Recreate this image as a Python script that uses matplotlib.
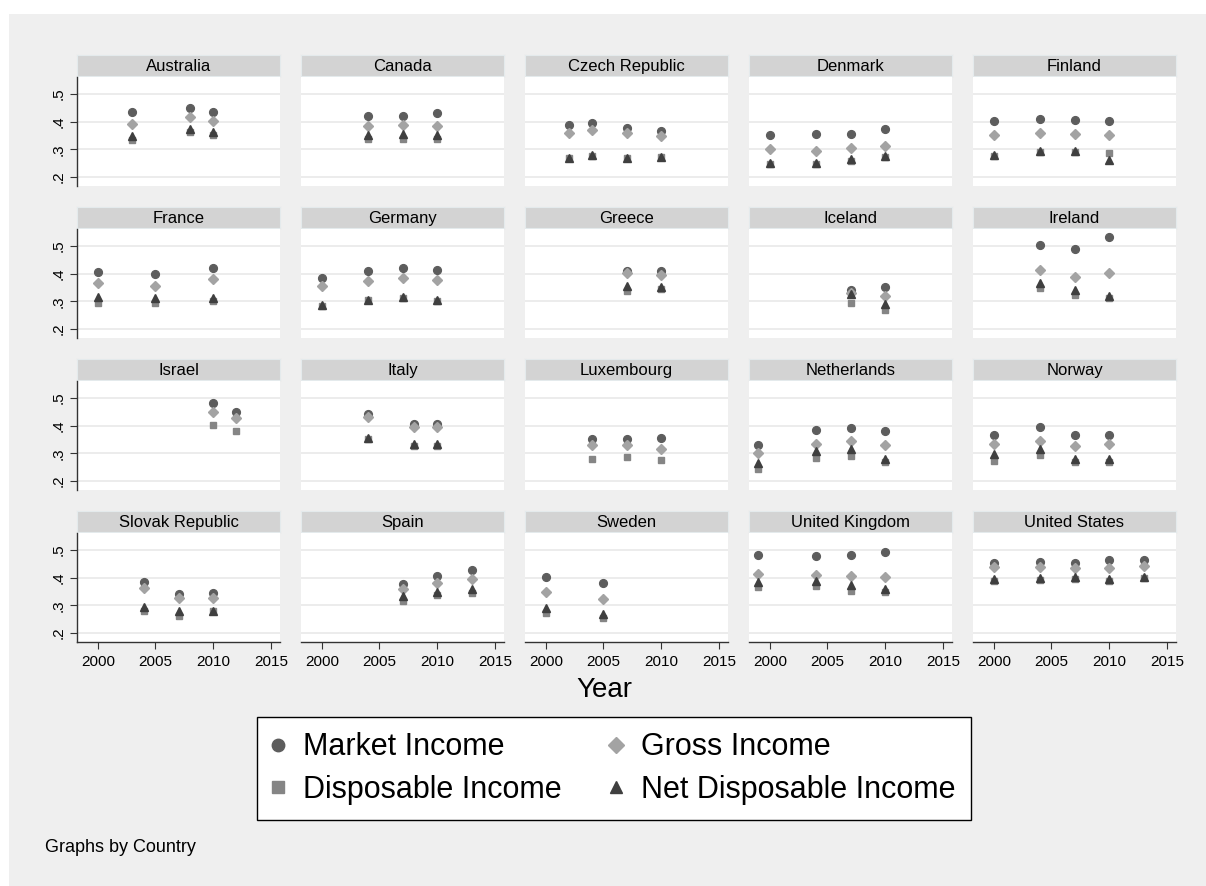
import matplotlib
matplotlib.use("Agg")
import matplotlib.pyplot as plt
from matplotlib.lines import Line2D
from matplotlib.patches import Rectangle
import numpy as np

plt.rcParams['font.family'] = ['Liberation Sans', 'DejaVu Sans']

countries = ["Australia", "Canada", "Czech Republic", "Denmark", "Finland",
             "France", "Germany", "Greece", "Iceland", "Ireland",
             "Israel", "Italy", "Luxembourg", "Netherlands", "Norway",
             "Slovak Republic", "Spain", "Sweden", "United Kingdom", "United States"]

years = {
    "Australia": [2003, 2008, 2010],
    "Canada": [2004, 2007, 2010],
    "Czech Republic": [2002, 2004, 2007, 2010],
    "Denmark": [2000, 2004, 2007, 2010],
    "Finland": [2000, 2004, 2007, 2010],
    "France": [2000, 2005, 2010],
    "Germany": [2000, 2004, 2007, 2010],
    "Greece": [2007, 2010],
    "Iceland": [2007, 2010],
    "Ireland": [2004, 2007, 2010],
    "Israel": [2010, 2012],
    "Italy": [2004, 2008, 2010],
    "Luxembourg": [2004, 2007, 2010],
    "Netherlands": [1999, 2004, 2007, 2010],
    "Norway": [2000, 2004, 2007, 2010],
    "Slovak Republic": [2004, 2007, 2010],
    "Spain": [2007, 2010, 2013],
    "Sweden": [2000, 2005],
    "United Kingdom": [1999, 2004, 2007, 2010],
    "United States": [2000, 2004, 2007, 2010, 2013],
}

market_income = {
    "Australia": [0.436, 0.450, 0.436],
    "Canada": [0.421, 0.419, 0.433],
    "Czech Republic": [0.387, 0.394, 0.377, 0.368],
    "Denmark": [0.353, 0.354, 0.356, 0.373],
    "Finland": [0.404, 0.408, 0.406, 0.401],
    "France": [0.405, 0.398, 0.421],
    "Germany": [0.385, 0.411, 0.421, 0.414],
    "Greece": [0.410, 0.410],
    "Iceland": [0.341, 0.352],
    "Ireland": [0.502, 0.490, 0.532],
    "Israel": [0.481, 0.451],
    "Italy": [0.441, 0.405, 0.405],
    "Luxembourg": [0.353, 0.351, 0.354],
    "Netherlands": [0.330, 0.385, 0.391, 0.379],
    "Norway": [0.367, 0.396, 0.367, 0.368],
    "Slovak Republic": [0.383, 0.341, 0.343],
    "Spain": [0.378, 0.406, 0.426],
    "Sweden": [0.401, 0.379],
    "United Kingdom": [0.482, 0.480, 0.483, 0.493],
    "United States": [0.453, 0.458, 0.453, 0.464, 0.464],
}

gross_income = {
    "Australia": [0.392, 0.416, 0.401],
    "Canada": [0.385, 0.387, 0.384],
    "Czech Republic": [0.358, 0.371, 0.358, 0.349],
    "Denmark": [0.300, 0.293, 0.304, 0.313],
    "Finland": [0.352, 0.360, 0.355, 0.350],
    "France": [0.365, 0.355, 0.379],
    "Germany": [0.357, 0.374, 0.386, 0.378],
    "Greece": [0.401, 0.396],
    "Iceland": [0.330, 0.318],
    "Ireland": [0.412, 0.389, 0.403],
    "Israel": [0.451, 0.427],
    "Italy": [0.432, 0.394, 0.394],
    "Luxembourg": [0.329, 0.329, 0.317],
    "Netherlands": [0.300, 0.335, 0.346, 0.331],
    "Norway": [0.333, 0.345, 0.327, 0.333],
    "Slovak Republic": [0.361, 0.328, 0.327],
    "Spain": [0.358, 0.380, 0.396],
    "Sweden": [0.348, 0.323],
    "United Kingdom": [0.412, 0.411, 0.406, 0.402],
    "United States": [0.439, 0.439, 0.436, 0.435, 0.442],
}

disposable_income = {
    "Australia": [0.333, 0.362, 0.353],
    "Canada": [0.338, 0.339, 0.338],
    "Czech Republic": [0.269, 0.277, 0.267, 0.271],
    "Denmark": [0.246, 0.246, 0.259, 0.272],
    "Finland": [0.276, 0.292, 0.291, 0.286],
    "France": [0.295, 0.294, 0.301],
    "Germany": [0.283, 0.304, 0.311, 0.301],
    "Greece": [0.336, 0.344],
    "Iceland": [0.295, 0.270],
    "Ireland": [0.348, 0.323, 0.311],
    "Israel": [0.404, 0.382],
    "Italy": [0.351, 0.326, 0.326],
    "Luxembourg": [0.280, 0.287, 0.277],
    "Netherlands": [0.244, 0.282, 0.289, 0.270],
    "Norway": [0.274, 0.294, 0.269, 0.270],
    "Slovak Republic": [0.278, 0.263, 0.278],
    "Spain": [0.316, 0.337, 0.346],
    "Sweden": [0.274, 0.256],
    "United Kingdom": [0.366, 0.369, 0.353, 0.347],
    "United States": [0.387, 0.393, 0.395, 0.388, 0.399],
}

net_disposable_income = {
    "Australia": [0.347, 0.373, 0.364],
    "Canada": [0.352, 0.354, 0.350],
    "Czech Republic": [0.270, 0.278, 0.268, 0.272],
    "Denmark": [0.252, 0.252, 0.265, 0.277],
    "Finland": [0.281, 0.295, 0.294, 0.261],
    "France": [0.315, 0.312, 0.312],
    "Germany": [0.286, 0.306, 0.314, 0.306],
    "Greece": [0.355, 0.351],
    "Iceland": [0.327, 0.291],
    "Ireland": [0.365, 0.341, 0.320],
    "Israel": [None, None],
    "Italy": [0.355, 0.332, 0.332],
    "Luxembourg": [None, None, None],
    "Netherlands": [0.264, 0.307, 0.317, 0.278],
    "Norway": [0.296, 0.314, 0.278, 0.280],
    "Slovak Republic": [0.294, 0.278, 0.280],
    "Spain": [0.334, 0.347, 0.359],
    "Sweden": [0.289, 0.267],
    "United Kingdom": [0.383, 0.388, 0.372, 0.358],
    "United States": [0.394, 0.400, 0.402, 0.395, 0.404],
}

x_ticks = [2000, 2005, 2010, 2015]
y_ticks = [0.2, 0.3, 0.4, 0.5]
y_ticklabels = [".2", ".3", ".4", ".5"]
series_labels = ["Market Income", "Gross Income", "Disposable Income", "Net Disposable Income"]

# styles
W, H = 1206, 886
BG = "#efefef"
styles = [
    dict(marker="o", color="#5d5d5d", ms=5.6),
    dict(marker="D", color="#a3a3a3", ms=4.8),
    dict(marker="s", color="#858585", ms=5.0),
    dict(marker="^", color="#3f3f3f", ms=5.8),
]

fig = plt.figure(figsize=(W / 100, H / 100), dpi=100)
fig.patch.set_facecolor("white")
fig.patches.append(Rectangle((9 / W, 0), 1 - 9 / W, 1 - 14 / H, transform=fig.transFigure,
                             facecolor=BG, edgecolor="none", zorder=-10))


def rect(x, y, w, h):
    return [x / W, 1 - (y + h) / H, w / W, h / H]


col_left0, col_step, col_w = 77, 224, 203
row_step = 152
strip_top0, plot_top0, plot_bot0 = 55, 77, 186

for i, c in enumerate(countries):
    r, k = divmod(i, 5)
    x0 = col_left0 + k * col_step
    st = strip_top0 + r * row_step
    pt = plot_top0 + r * row_step
    pb = plot_bot0 + r * row_step

    sax = fig.add_axes(rect(x0, st, col_w, pt - st - 1))
    sax.set_facecolor("#d3d3d3")
    for sp in sax.spines.values():
        sp.set_edgecolor("#e4eaec")
        sp.set_linewidth(0.8)
    sax.set_xticks([]); sax.set_yticks([])
    sax.text(0.5, 0.45, c, ha="center", va="center", fontsize=12, transform=sax.transAxes)

    ax = fig.add_axes(rect(x0, pt, col_w, pb - pt))
    ax.set_facecolor("white")
    ax.set_xlim(1998.2, 2015.8)
    ax.set_ylim(0.1675, 0.5614)
    for yv in y_ticks:
        ax.axhline(yv, color="#eaeaea", lw=1.3, zorder=0)
    yrs = years[c]
    for data, stl in zip([market_income, gross_income, disposable_income, net_disposable_income], styles):
        vals = data[c]
        xs = [y for y, v in zip(yrs, vals) if v is not None]
        vs = [v for v in vals if v is not None]
        ax.plot(xs, vs, linestyle="none", marker=stl["marker"], color=stl["color"],
                ms=stl["ms"], mec=stl["color"], zorder=3)
    for sp in ["top", "right"]:
        ax.spines[sp].set_visible(False)
    ax.spines["left"].set_visible(k == 0)
    ax.spines["bottom"].set_visible(r == 3)
    for sp in ["left", "bottom"]:
        ax.spines[sp].set_color("#333333")
        ax.spines[sp].set_linewidth(1.0)
    ax.set_yticks(y_ticks)
    ax.set_xticks(x_ticks)
    if k == 0:
        ax.set_yticklabels(y_ticklabels, rotation=90, va="center", fontsize=11)
        ax.tick_params(axis="y", length=5, width=0.8, color="#333333", pad=3)
    else:
        ax.tick_params(axis="y", length=0, labelleft=False)
    if r == 3:
        ax.set_xticklabels([str(t) for t in x_ticks], fontsize=11)
        ax.tick_params(axis="x", length=5, width=0.8, color="#333333", pad=4)
    else:
        ax.tick_params(axis="x", length=0, labelbottom=False)

fig.text(604 / W, 1 - 690 / H, "Year", ha="center", va="center", fontsize=20)

handles = [Line2D([], [], linestyle="none", marker=s["marker"], color=s["color"],
                  ms=s["ms"] * 1.6) for s in styles]
order = [0, 2, 1, 3]
leg = fig.legend([handles[j] for j in order], [series_labels[j] for j in order],
                 ncol=2, loc="center", bbox_to_anchor=((248 + 980) / 2 / W, 1 - (719 + 818) / 2 / H),
                 fontsize=22, frameon=True, fancybox=False, handlelength=0.35,
                 handletextpad=0.65, columnspacing=1.6, borderpad=0.5, labelspacing=0.4,
                 borderaxespad=0, framealpha=1.0)
leg.get_frame().set_edgecolor("black")
leg.get_frame().set_linewidth(1.0)
leg.get_frame().set_facecolor("white")

fig.text(45 / W, 1 - 848 / H, "Graphs by Country", ha="left", va="center", fontsize=13)

fig.savefig("out.png", dpi=100, facecolor=fig.get_facecolor())
